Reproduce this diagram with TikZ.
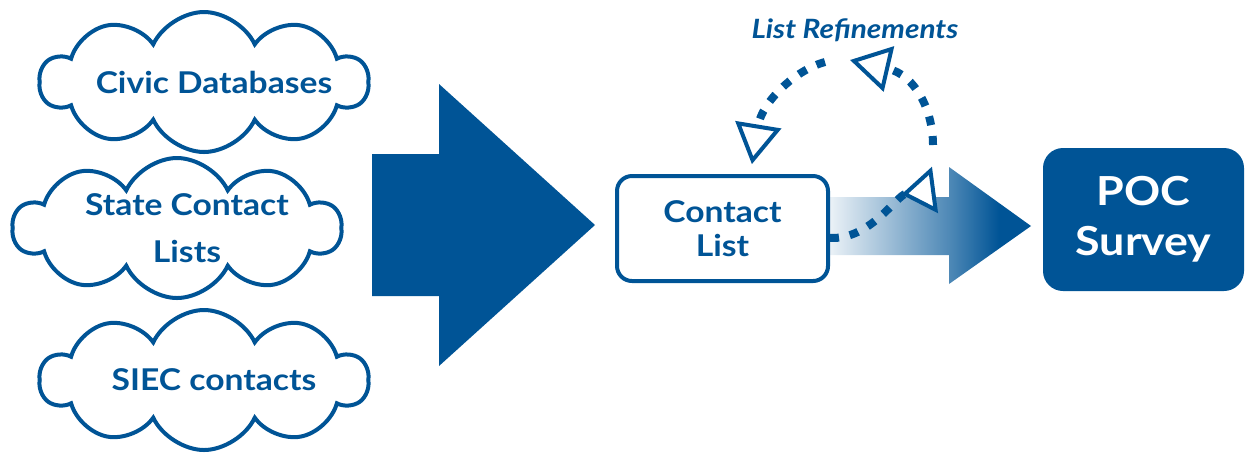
\documentclass[tikz,border=0pt]{standalone}
\usepackage{fontspec}
\setmainfont{Lato}[FakeStretch=1.12]
\usetikzlibrary{shapes.symbols,arrows.meta,positioning}
\definecolor{pocblue}{RGB}{0,84,150}
\pgfdeclarehorizontalshading{listfade}{100bp}{color(0bp)=(pocblue!8); color(25bp)=(pocblue!8);
    color(55bp)=(pocblue!70); color(67bp)=(pocblue); color(100bp)=(pocblue)}

\tikzset{
    cloudbox/.style={cloud, cloud puffs=10, cloud puff arc=130, cloud ignores aspect,
        draw=pocblue, line width=2pt, fill=white, inner sep=0pt,
        minimum width=164pt, minimum height=70pt},
    cloudtxt/.style={text=pocblue, align=center, xshift=5pt,
        font=\fontsize{15}{23.5}\selectfont\bfseries},
    listbox/.style={rectangle, rounded corners=7.5pt, draw=pocblue, line width=2pt,
        fill=white, text=pocblue, align=center, font=\fontsize{15}{17}\selectfont\bfseries,
        minimum width=105.5pt, minimum height=52.5pt},
    surveybox/.style={rectangle, rounded corners=10pt, fill=pocblue, text=white, align=center,
        font=\fontsize{20}{25}\selectfont\bfseries, minimum width=100.5pt, minimum height=71.5pt},
    refline/.style={draw=pocblue, line width=4pt, dash pattern=on 4.5pt off 5.5pt},
    reftip/.style={-{Triangle[length=20pt,width=23pt,line width=2pt,fill=white]}},
    reftiprev/.style={-{Triangle[reversed,length=17pt,width=23pt,line width=2pt,fill=white]}}
}

\begin{document}
\begin{tikzpicture}[x=0.5pt,y=-0.5pt]
        \useasboundingbox (0,0) rectangle (1245,452);
        % Sources
            \node[cloudbox, label={[cloudtxt]center:Civic Databases}] (civic) at (204,82) {};
            \node[cloudbox, label={[cloudtxt]center:State Contact\\Lists}] (state) at (177,228) {};
            \node[cloudbox, label={[cloudtxt]center:SIEC contacts}] (siec) at (204,380) {};
        % Big arrow
            \fill[pocblue] (372,154) -- (439,154) -- (439,84) -- (595,225)
                -- (439,366) -- (439,296) -- (372,296) -- cycle;
        % Gradient arrow
            \shade[shading=listfade] (830,197) -- (949,197) -- (949,167)
                -- (1031,226) -- (949,284) -- (949,255) -- (830,255) -- cycle;
        % Boxes
            \node[listbox] (contact) at (722.5,228.5) {Contact\\List};
            \node[surveybox] (poc) at (1143.5,219.5) {POC\\Survey};
            \node[text=pocblue, font=\fontsize{13.3}{15}\selectfont\bfseries\itshape] (refine) at (855,30) {List Refinements};
        % Refinement loop
            \coordinate (loopA) at (825,62);
            \coordinate (loopB) at (933,145);
            \coordinate (loopBend) at (850,60);
            \coordinate (loopC) at (935,190);
            \draw[refline, reftip, shorten >=5pt] (loopA) .. controls (795,70) and (762,102) .. (contact.63);
            \draw[refline, reftip] (loopB) .. controls (933,110) and (915,75) .. (loopBend);
            \draw[refline, reftiprev] (contact.-5) .. controls (870,240) and (897,195) .. (loopC);
     \end{tikzpicture}
\end{document}
